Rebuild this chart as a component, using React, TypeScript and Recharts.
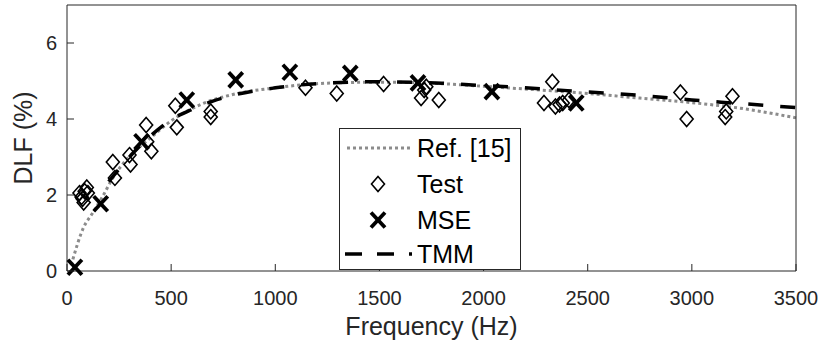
import React from 'react';
import {
    ComposedChart,
    Line,
    Scatter,
    XAxis,
    YAxis,
    Legend,
    Label
} from 'recharts';

// Ref. [15] curve
const refFreq = [20, 80, 120, 170, 220, 300, 400, 500, 650, 800, 1000, 1200, 1500, 1800, 2000, 2500, 2750, 3000, 3250, 3500];
const refDlf = [0.15, 1.15, 1.5, 1.95, 2.45, 3.02, 3.5, 3.95, 4.4, 4.65, 4.82, 4.93, 4.97, 4.93, 4.86, 4.67, 4.55, 4.43, 4.27, 4.03];

// TMM curve
const tmmFreq = [200, 300, 400, 500, 600, 700, 800, 1000, 1200, 1500, 1800, 2000, 2200, 2500, 2800, 3000, 3200, 3500];
const tmmDlf = [2.35, 3.0, 3.55, 3.98, 4.25, 4.47, 4.63, 4.82, 4.93, 4.98, 4.94, 4.88, 4.82, 4.71, 4.6, 4.5, 4.42, 4.3];

// measured points
const testFreq = [60, 70, 75, 80, 85, 95, 100, 220, 230, 300, 305, 380, 385, 405, 520, 527, 690, 690,
    1145, 1295, 1520, 1700, 1715, 1725, 1785, 2290, 2330, 2345, 2365, 2380, 2410, 2945, 2975, 3160, 3165, 3195];
const testDlf = [2.05, 1.95, 1.9, 1.8, 2.1, 2.2, 2.05, 2.87, 2.45, 3.05, 2.8, 3.84, 3.4, 3.15, 4.35, 3.78, 4.2, 4.05,
    4.82, 4.67, 4.92, 4.55, 4.76, 4.85, 4.5, 4.42, 4.98, 4.33, 4.38, 4.42, 4.5, 4.7, 4.0, 4.05, 4.2, 4.6];

// MSE results
const mseFreq = [38, 162, 358, 575, 810, 1070, 1360, 1685, 2040, 2445];
const mseDlf = [0.1, 1.77, 3.4, 4.5, 5.03, 5.23, 5.2, 4.95, 4.72, 4.42];

const xTicks = [0, 500, 1000, 1500, 2000, 2500, 3000, 3500];
const yTicks = [0, 2, 4, 6];

const legendNames = ['Ref. [15]', 'Test', 'MSE', 'TMM'];

const toPoints = (fs: number[], vs: number[]) => fs.map((f, i) => ({ f, dlf: vs[i] }));

const AXIS = '#262626';
const FONT = '"Liberation Sans", Arial, Helvetica, sans-serif';
const TICK_LEN = 7;

const BottomTick = (props: any) => {
    const { x, y, payload } = props;
    return (
        <g>
            <line x1={x} x2={x} y1={y} y2={y - TICK_LEN} stroke={AXIS} />
            <text x={x} y={y + 34} textAnchor="middle" fill={AXIS} fontSize={20} fontFamily={FONT}>
                {payload.value}
            </text>
        </g>
    );
};

const TopTick = (props: any) => {
    const { x, y } = props;
    return <line x1={x} x2={x} y1={y} y2={y + TICK_LEN} stroke={AXIS} />;
};

const LeftTick = (props: any) => {
    const { x, y, payload } = props;
    return (
        <g>
            <line x1={x} x2={x + TICK_LEN} y1={y} y2={y} stroke={AXIS} />
            <text x={x - 10} y={y + 7} textAnchor="end" fill={AXIS} fontSize={20} fontFamily={FONT}>
                {payload.value}
            </text>
        </g>
    );
};

const RightTick = (props: any) => {
    const { x, y } = props;
    return <line x1={x} x2={x - TICK_LEN} y1={y} y2={y} stroke={AXIS} />;
};

const Diamond = ({ cx, cy }: any) => (
    <path
        d={`M${cx},${cy - 7.5} L${cx + 6.5},${cy} L${cx},${cy + 7.5} L${cx - 6.5},${cy} Z`}
        fill="none"
        stroke="#000"
        strokeWidth={1.6}
    />
);

const Cross = ({ cx, cy }: any) => (
    <g stroke="#000" strokeWidth={3.8}>
        <line x1={cx - 7} y1={cy - 7.5} x2={cx + 7} y2={cy + 7.5} />
        <line x1={cx - 7} y1={cy + 7.5} x2={cx + 7} y2={cy - 7.5} />
    </g>
);

const LegendBox = () => {
    const rowY = [20, 56, 92, 126];
    return (
        <svg width={182} height={142} style={{ display: 'block' }}>
            <rect x={0.5} y={0.5} width={181} height={141} fill="#fff" stroke={AXIS} />
            <line x1={8} x2={73} y1={rowY[0]} y2={rowY[0]} stroke="#8c8c8c" strokeWidth={3} strokeDasharray="3 3" />
            <Diamond cx={39} cy={rowY[1]} />
            <Cross cx={39} cy={rowY[2]} />
            <line x1={6} x2={73} y1={rowY[3]} y2={rowY[3]} stroke="#000" strokeWidth={3.5} strokeDasharray="17 15" />
            {legendNames.map((name, i) => (
                <text key={name} x={78} y={rowY[i] + 9} fontSize={25} fontFamily={FONT} fill="#000">
                    {name}
                </text>
            ))}
        </svg>
    );
};

const App = () => {
    const refData = toPoints(refFreq, refDlf);
    const tmmData = toPoints(tmmFreq, tmmDlf);
    const testData = toPoints(testFreq, testDlf);
    const mseData = toPoints(mseFreq, mseDlf);

    return (
        <div style={{ position: 'absolute', left: 0, top: 0, width: 820, height: 350, background: '#fff' }}>
            <ComposedChart width={820} height={350} margin={{ top: 0, right: 0, left: 0, bottom: 0 }}>
                <XAxis
                    xAxisId="top"
                    orientation="top"
                    type="number"
                    dataKey="f"
                    domain={[0, 3500]}
                    ticks={xTicks}
                    height={5}
                    tickSize={0}
                    tickMargin={0}
                    tickLine={false}
                    tick={<TopTick />}
                    stroke={AXIS}
                />
                <XAxis
                    type="number"
                    dataKey="f"
                    domain={[0, 3500]}
                    ticks={xTicks}
                    height={79}
                    tickSize={0}
                    tickMargin={0}
                    tickLine={false}
                    tick={<BottomTick />}
                    stroke={AXIS}
                    label={
                        <Label
                            content={({ viewBox }: any) => (
                                <text
                                    x={viewBox.x + viewBox.width / 2}
                                    y={viewBox.y + 64}
                                    textAnchor="middle"
                                    fontSize={25}
                                    fontFamily={FONT}
                                    fill={AXIS}
                                >
                                    Frequency (Hz)
                                </text>
                            )}
                        />
                    }
                />
                <YAxis
                    type="number"
                    domain={[0, 7]}
                    ticks={yTicks}
                    width={67}
                    tickSize={0}
                    tickMargin={0}
                    tickLine={false}
                    tick={<LeftTick />}
                    stroke={AXIS}
                    label={
                        <Label
                            content={({ viewBox }: any) => {
                                const cx = viewBox.x + 32;
                                const cy = viewBox.y + viewBox.height / 2;
                                return (
                                    <text
                                        x={cx}
                                        y={cy}
                                        transform={`rotate(-90, ${cx}, ${cy})`}
                                        textAnchor="middle"
                                        fontSize={25}
                                        fontFamily={FONT}
                                        fill={AXIS}
                                    >
                                        DLF (%)
                                    </text>
                                );
                            }}
                        />
                    }
                />
                <YAxis
                    yAxisId="right"
                    orientation="right"
                    type="number"
                    domain={[0, 7]}
                    ticks={yTicks}
                    width={24}
                    tickSize={0}
                    tickMargin={0}
                    tickLine={false}
                    tick={<RightTick />}
                    stroke={AXIS}
                />

                <Line
                    data={refData}
                    dataKey="dlf"
                    type="monotone"
                    stroke="#8c8c8c"
                    strokeWidth={3}
                    strokeDasharray="3 3"
                    dot={false}
                    activeDot={false}
                    isAnimationActive={false}
                />
                <Line
                    data={tmmData}
                    dataKey="dlf"
                    type="monotone"
                    stroke="#000"
                    strokeWidth={3.5}
                    strokeDasharray="15 17"
                    dot={false}
                    activeDot={false}
                    isAnimationActive={false}
                />
                <Scatter data={testData} dataKey="dlf" shape={<Diamond />} isAnimationActive={false} />
                <Scatter data={mseData} dataKey="dlf" shape={<Cross />} isAnimationActive={false} />

                <Legend
                    layout="vertical"
                    align="center"
                    verticalAlign="middle"
                    wrapperStyle={{ left: 339, top: 128, width: 182, height: 142 }}
                    content={() => <LegendBox />}
                />
            </ComposedChart>
        </div>
    );
};

export default App;
